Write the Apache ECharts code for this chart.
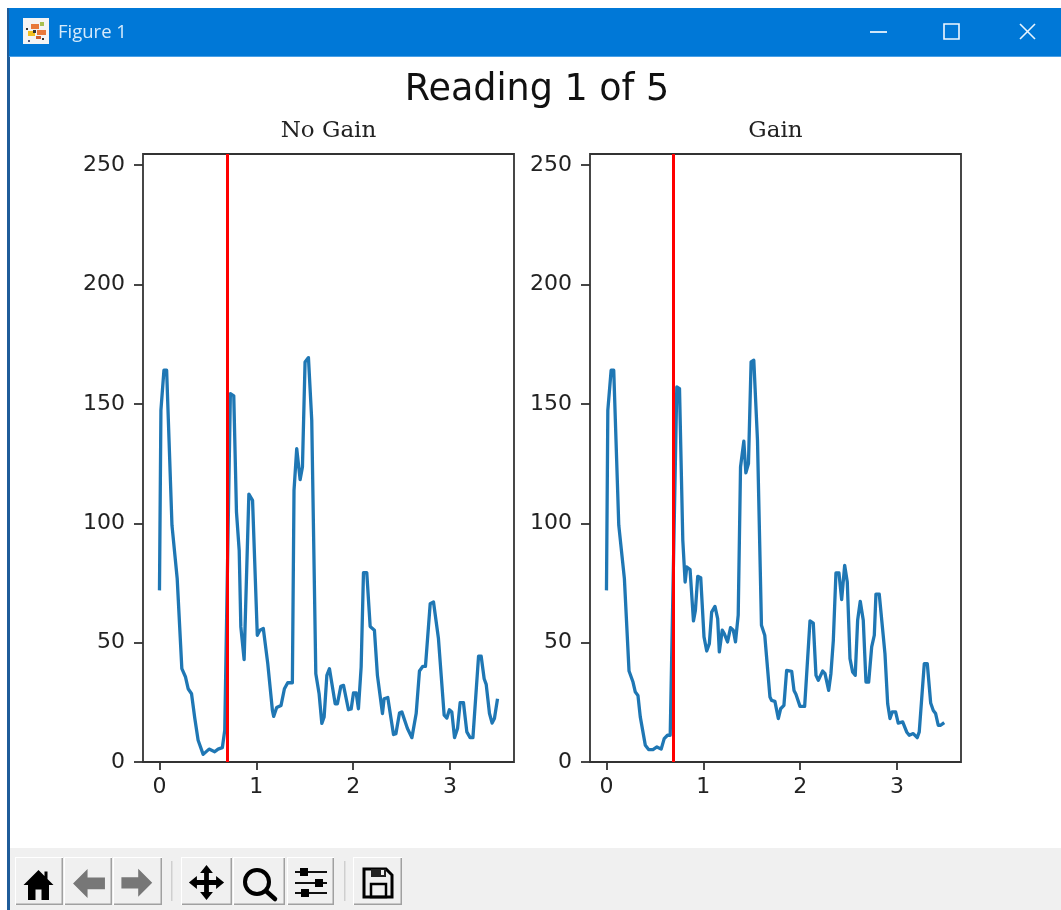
<!DOCTYPE html>
<html><head><meta charset="utf-8">
<style>html,body{margin:0;padding:0;background:#fff}#c{width:1061px;height:910px}</style>
<script src="https://cdn.jsdelivr.net/npm/echarts@6/dist/echarts.min.js"></script>
</head><body><div id="c"></div>
<script>
const figureTitle = "Reading 1 of 5";
const panelTitles = ["No Gain", "Gain"];
const xTicks = [0, 1, 2, 3];
const yTicks = [0, 50, 100, 150, 200, 250];
const markerX = [0.705, 0.686];

const noGainT = [0,0.015,0.046,0.074,0.129,0.183,0.231,0.269,0.296,0.331,0.365,0.399,0.451,0.512,0.570,0.605,0.649,0.674,0.732,0.767,0.795,0.823,0.840,0.874,0.923,0.961,1.010,1.037,1.072,1.118,1.166,1.179,1.210,1.255,1.290,1.324,1.372,1.389,1.417,1.452,1.476,1.503,1.538,1.572,1.614,1.648,1.676,1.700,1.728,1.755,1.814,1.837,1.872,1.900,1.951,1.979,2.003,2.031,2.054,2.082,2.106,2.140,2.175,2.219,2.250,2.302,2.319,2.357,2.416,2.441,2.478,2.502,2.560,2.606,2.650,2.684,2.719,2.746,2.795,2.829,2.880,2.939,2.967,2.993,3.018,3.046,3.077,3.104,3.138,3.173,3.207,3.236,3.294,3.321,3.352,3.373,3.407,3.434,3.458,3.490];
const noGainV = [71.9,147.3,164.1,164.1,99.2,76.8,39.1,35.6,30.7,28.6,18.2,9.1,3.2,5.4,4.3,5.4,6,13.3,154.3,153.4,104.7,88.7,56.6,42.9,112.2,109.6,53.1,55.2,55.9,41.2,21.6,19.1,22.8,23.7,30.7,33.2,33.2,113.8,131.3,118.3,123.6,167.6,169.4,143.2,37,28.6,16.2,18.9,36.3,39.1,24.4,24.4,31.7,32.1,21.9,22.2,28.9,28.9,22.3,39.8,79.3,79.3,56.8,55.2,36.3,20.3,26.5,27,11.5,11.9,20.5,21,14,10.2,20.3,38.1,40.1,40.1,66.3,67,51.7,19.6,18.4,21.9,21,10.2,14,24.9,24.9,12.6,10.2,10.2,44.3,44.3,34.9,32.5,20.3,16.3,18.2,26.5];
const gainT = [0,0.014,0.048,0.075,0.127,0.185,0.233,0.274,0.298,0.325,0.349,0.401,0.435,0.480,0.521,0.565,0.596,0.630,0.658,0.726,0.754,0.788,0.812,0.829,0.863,0.898,0.918,0.942,0.973,1.007,1.035,1.062,1.086,1.120,1.148,1.165,1.195,1.216,1.250,1.281,1.309,1.332,1.360,1.384,1.418,1.439,1.466,1.493,1.521,1.559,1.600,1.634,1.688,1.705,1.739,1.774,1.798,1.832,1.860,1.877,1.912,1.936,1.956,1.998,2.046,2.101,2.135,2.163,2.187,2.232,2.256,2.294,2.317,2.342,2.369,2.400,2.428,2.459,2.486,2.514,2.541,2.568,2.593,2.620,2.651,2.679,2.707,2.738,2.765,2.782,2.816,2.875,2.903,2.927,2.950,2.985,3.012,3.058,3.099,3.126,3.167,3.208,3.229,3.281,3.312,3.347,3.374,3.398,3.425,3.450,3.487];
const gainV = [71.9,147.3,164.1,164.1,99.2,76.8,38.1,33.5,29.3,27.9,18.9,7,5.2,5.2,6.3,5.4,9.8,11.2,11.2,157.1,156.4,92.9,75.4,81.7,80.6,59.1,63.5,77.8,77.2,52.4,46.5,49.6,62.8,65.2,60.1,46.1,55.2,53.8,50.3,56.3,55.2,50.3,61.5,123.6,134.4,121.1,125,167.6,168.3,134.8,57.3,53.1,27.2,25.8,25.4,18.2,22.3,23.7,38.4,39.1,38,30,28.4,23.3,23.3,59.1,58.2,36.3,34.2,38.1,37,30,37,51,79.2,79.2,68,82.4,75.4,43.3,37.7,36.3,59.4,67.3,59.4,33.5,33.5,48.2,53.1,70.3,70.3,45.4,24.4,18.2,21,21,16.3,16.8,12.6,11.2,11.9,10.2,12.6,41.2,41.2,24.7,21.6,20.3,15.4,15.4,16.5];

const pairs = (t, v) => t.map((x, i) => [x, v[i]]);
const tickFont = {color:'#222', fontFamily:'DejaVu Sans', fontSize:22};
const xAxis = i => ({type:'value', gridIndex:i, min:-0.17, max:3.66, splitLine:{show:false},
  axisLine:{show:false, onZero:false}, axisTick:{show:true, length:8, customValues:xTicks, lineStyle:{color:'#333', width:1.8}},
  axisLabel:{...tickFont, margin:14.5, customValues:xTicks, formatter:v=>String(v)}});
const yAxis = i => ({type:'value', gridIndex:i, min:0, max:254.7, splitLine:{show:false},
  axisLine:{show:false, onZero:false}, axisTick:{show:true, length:9, customValues:yTicks, lineStyle:{color:'#333', width:1.8}},
  axisLabel:{...tickFont, margin:18, customValues:yTicks, formatter:v=>String(v)}});
const lineSeries = (name, i, data, mx) => ({name, type:'line', xAxisIndex:i, yAxisIndex:i, data, symbol:'none',
  clip:true, lineStyle:{color:'#1f77b4', width:3.3, join:'round'}, animation:false, z:3,
  markLine:{silent:true, symbol:'none', animation:false, label:{show:false},
    lineStyle:{color:'#ff0000', width:3, type:'solid'}, data:[{xAxis:mx}], z:4}});

/* window chrome, drawn as graphic decorations */
const G = [];
const rect = (x,y,w,h,fill,z=0) => G.push({type:'rect', silent:true, z, shape:{x,y,width:w,height:h}, style:{fill}});
const poly = (pts,ox,oy,k,style) => G.push({type:'polygon', silent:true, z:3, shape:{points:pts.map(p=>[ox+p[0]*k,oy+p[1]*k])}, style});
rect(7,8,3,902,'#1f5c99');
rect(9,8,1052,49,'#0078d7');
rect(9,56,1052,1,'#4aa0e6');
rect(10,848,1051,62,'#f0f0f0');
// app icon
rect(23,18,26,26,'#f4f4f4',2);
[[31,24,'#e8793a',8,5],[37,30,'#e8793a',9,5],[28,31,'#f0c020',7,5],[40,22,'#a8c050',4,4],[33,30,'#333',3,3],[26,28,'#333',2,2],[42,38,'#333',2,2],[28,40,'#557',2,2],[36,36,'#d06030',5,3]].forEach(a=>rect(a[0],a[1],a[3],a[4],a[2],3));
G.push({type:'text', silent:true, z:3, style:{x:58, y:33, text:'Figure 1', fill:'#d6ebfb', font:'18.5px "Open Sans"', verticalAlign:'middle', align:'left'}});
// window buttons
rect(870,31,17,2,'#cfe6f9',3);
G.push({type:'rect', silent:true, z:3, shape:{x:944,y:24,width:15,height:15}, style:{fill:'none', stroke:'#f0f8ff', lineWidth:1.6}});
G.push({type:'line', silent:true, z:3, shape:{x1:1020,y1:24,x2:1035,y2:39}, style:{stroke:'#e8f4ff', lineWidth:1.6}});
G.push({type:'line', silent:true, z:3, shape:{x1:1035,y1:24,x2:1020,y2:39}, style:{stroke:'#e8f4ff', lineWidth:1.6}});
// toolbar buttons
[[15,48],[64,48],[113,49],[181,51],[233,52],[287,47],[353,49]].forEach(b=>{
  rect(b[0],857,b[1],48,'#ffffff',1);
  rect(b[0]+1,858,b[1]-1,47,'#a0a0a0',1);
  rect(b[0]+1,858,b[1]-2.5,45.5,'#f0f0f0',1);
});
rect(171,861,1.5,40,'#cfcfcf',1);
rect(344,861,1.5,40,'#cfcfcf',1);
poly([[12,2],[2,12],[5,12],[5,22],[10,22],[10,15],[14,15],[14,22],[19,22],[19,12],[22,12],[18,8],[18,3],[16,3],[16,6]],20.5,867,1.5,{fill:'#000'});
poly([[11,2],[1,12],[11,22],[11,16],[23,16],[23,8],[11,8]],71.6,866,1.45,{fill:'#777'});
poly([[13,2],[23,12],[13,22],[13,16],[1,16],[1,8],[13,8]],120,866,1.4,{fill:'#777'});
poly([[12,1],[16,6],[13.5,6],[13.5,10.5],[18,10.5],[18,8],[23,12],[18,16],[18,13.5],[13.5,13.5],[13.5,18],[16,18],[12,23],[8,18],[10.5,18],[10.5,13.5],[6,13.5],[6,16],[1,12],[6,8],[6,10.5],[10.5,10.5],[10.5,6],[8,6]],187.3,863.3,1.6,{fill:'#000'});
G.push({type:'circle', silent:true, z:3, shape:{cx:257,cy:882,r:12}, style:{fill:'none', stroke:'#000', lineWidth:4}});
G.push({type:'line', silent:true, z:3, shape:{x1:266,y1:891,x2:275,y2:899}, style:{stroke:'#000', lineWidth:4.5, lineCap:'round'}});
[[872,304],[883,319],[893,305]].forEach(s=>{
  rect(295,s[0]-1,32,2,'#111',3);
  rect(s[1]-4,s[0]-4,8,8,'#000',4);
});
G.push({type:'polygon', silent:true, z:3, shape:{points:[[364,869],[386,869],[392,875],[392,897],[364,897]]}, style:{fill:'none', stroke:'#000', lineWidth:3}});
rect(371,869,15,8,'#222',3);
rect(381,870,3,5,'#f0f0f0',4);
G.push({type:'rect', silent:true, z:3, shape:{x:371,y:884,width:15,height:13}, style:{fill:'none', stroke:'#000', lineWidth:2.5}});

const chart = echarts.init(document.getElementById('c'), null, {renderer:'canvas'});
chart.setOption({
  animation:false, backgroundColor:'#fff',
  title:[
    {text:figureTitle, left:537, top:72, padding:0, textAlign:'center', textStyle:{fontFamily:'DejaVu Sans', fontWeight:'normal', fontSize:36.5, color:'#111'}},
    {text:panelTitles[0], left:328.5, top:120, padding:0, textAlign:'center', textStyle:{fontFamily:'DejaVu Serif', fontWeight:'normal', fontSize:23, color:'#222'}},
    {text:panelTitles[1], left:775.5, top:120, padding:0, textAlign:'center', textStyle:{fontFamily:'DejaVu Serif', fontWeight:'normal', fontSize:23, color:'#222'}}
  ],
  grid:[
    {left:143, top:154, width:371, height:608, show:true, borderColor:'#333', borderWidth:1.8, backgroundColor:'#fff', containLabel:false},
    {left:590, top:154, width:371, height:608, show:true, borderColor:'#333', borderWidth:1.8, backgroundColor:'#fff', containLabel:false}
  ],
  xAxis:[xAxis(0), xAxis(1)],
  yAxis:[yAxis(0), yAxis(1)],
  series:[
    lineSeries(panelTitles[0],0,pairs(noGainT,noGainV),markerX[0]),
    lineSeries(panelTitles[1],1,pairs(gainT,gainV),markerX[1])
  ],
  graphic:{elements:G}
});
</script></body></html>
